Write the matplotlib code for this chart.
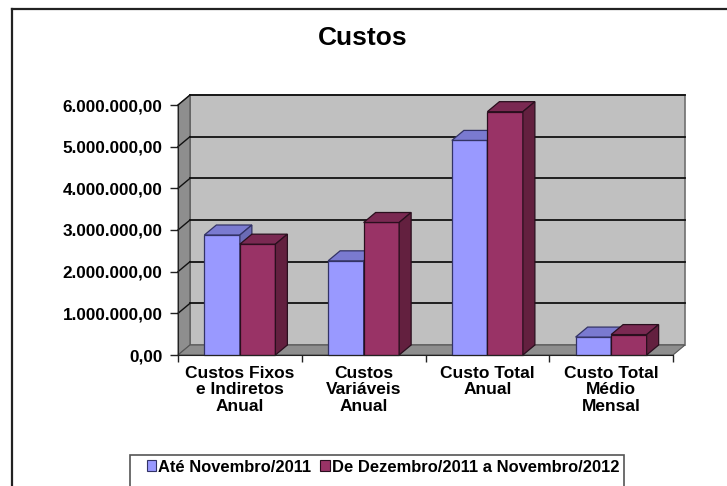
import matplotlib
matplotlib.use("Agg")
import matplotlib.pyplot as plt
from matplotlib.patches import Polygon, Patch, Rectangle
from matplotlib.lines import Line2D

plt.rcParams["font.family"] = ["Liberation Sans", "DejaVu Sans"]
plt.rcParams["font.weight"] = "bold"

# dados
categorias = ["Custos Fixos\ne Indiretos\nAnual", "Custos\nVariáveis\nAnual",
              "Custo Total\nAnual", "Custo Total\nMédio\nMensal"]
series = ["Até Novembro/2011", "De Dezembro/2011 a Novembro/2012"]
ate_nov_2011 = [2880000, 2260000, 5150000, 430000]
dez2011_nov2012 = [2660000, 3180000, 5840000, 490000]
yticks = [0, 1000000, 2000000, 3000000, 4000000, 5000000, 6000000]

# cores estilo Excel 2003 (frente, topo, lado, contorno)
cores = [("#9999ff", "#7a7ad0", "#6b6bb5", "#333366"),
         ("#993366", "#7a2952", "#63203f", "#2a0f1e")]

W, H = 727, 486
fig = plt.figure(figsize=(W / 100, H / 100), dpi=100)

# moldura do gráfico (recortada na direita/embaixo)
fig.add_artist(Line2D([12 / W, 12 / W], [0, 1 - 9 / H], color="#222", lw=1.6))
fig.add_artist(Line2D([12 / W, 1], [1 - 9 / H, 1 - 9 / H], color="#222", lw=1.6))

ax = fig.add_axes([178 / W, 1 - 355 / H, 495 / W, 250 / H])
ymax = 6000000
ax.set_xlim(0, 4)
ax.set_ylim(0, ymax)

# profundidade 3D (em unidades de dados)
DX = 12 / 123.75
DY = 10 / 250 * ymax

# paredes e piso
ax.add_patch(Polygon([(DX, DY), (4 + DX, DY), (4 + DX, ymax + DY), (DX, ymax + DY)],
                     closed=True, fc="#c0c0c0", ec="#707070", lw=1.2, clip_on=False, zorder=1))
ax.add_patch(Polygon([(0, 0), (DX, DY), (DX, ymax + DY), (0, ymax)],
                     closed=True, fc="#8e8e8e", ec="#555555", lw=0.8, clip_on=False, zorder=1))
ax.add_patch(Polygon([(0, 0), (4, 0), (4 + DX, DY), (DX, DY)],
                     closed=True, fc="#8e8e8e", ec="#555555", lw=0.8, clip_on=False, zorder=1))
for v in yticks[1:]:
    ax.plot([DX, 4 + DX], [v + DY, v + DY], color="#111", lw=1.3, clip_on=False, zorder=2)
    ax.plot([0, DX], [v, v + DY], color="#111", lw=1.0, clip_on=False, zorder=2)

# barras 3D
bw = 0.287
off = 0.5 - bw
for i in range(len(categorias)):
    for s, vals in enumerate([ate_nov_2011, dez2011_nov2012]):
        fc, tc, sc, ec = cores[s]
        x0 = i + off + s * bw
        x1 = x0 + bw
        v = vals[i]
        kw = dict(closed=True, ec=ec, lw=0.9, clip_on=False, zorder=3)
        ax.add_patch(Polygon([(x0, 0), (x1, 0), (x1, v), (x0, v)], fc=fc, **kw))
        ax.add_patch(Polygon([(x0, v), (x1, v), (x1 + DX, v + DY), (x0 + DX, v + DY)], fc=tc, **kw))
        ax.add_patch(Polygon([(x1, 0), (x1 + DX, DY), (x1 + DX, v + DY), (x1, v)], fc=sc, **kw))

# eixos
for sp in ["top", "right"]:
    ax.spines[sp].set_visible(False)
ax.spines["left"].set_color("#222")
ax.spines["bottom"].set_color("#222")
ax.spines["left"].set_zorder(4)
ax.spines["bottom"].set_zorder(4)
ax.set_facecolor("none")

def fmt_br(v):
    return f"{v:,.2f}".replace(",", "X").replace(".", ",").replace("X", ".")

ax.set_yticks(yticks)
ax.set_yticklabels([fmt_br(v) for v in yticks], fontsize=12.3, fontweight="bold")
ax.tick_params(axis="y", length=6, width=1, pad=5, color="#222")

ax.set_xticks([0, 1, 2, 3, 4])
ax.set_xticklabels([])
ax.set_xticks([i + 0.5 for i in range(len(categorias))], minor=True)
ax.set_xticklabels(categorias, minor=True, fontsize=12.5, fontweight="bold", linespacing=1.1)
ax.tick_params(axis="x", which="minor", length=0, pad=8)
ax.tick_params(axis="x", which="major", length=5, width=1, color="#222")

fig.text(363 / W, 1 - 38 / H, "Custos", ha="center", va="center",
         fontsize=19, fontweight="bold")

# legenda
fig.add_artist(Rectangle((130 / W, -0.05), 494 / W, 0.05 + (486 - 455) / H,
                         transform=fig.transFigure, fill=False, ec="#555", lw=1.2))
handles = [Patch(fc=cores[k][0], ec=cores[k][3], lw=0.8) for k in range(2)]
fig.legend(handles, series, loc="center", bbox_to_anchor=(383 / W, 1 - 467 / H),
           ncol=2, frameon=False, prop={"weight": "bold", "size": 11.9},
           handlelength=0.6, handleheight=0.6, handletextpad=0.1,
           columnspacing=0.55, borderpad=0)

fig.savefig("out.png", dpi=100)
